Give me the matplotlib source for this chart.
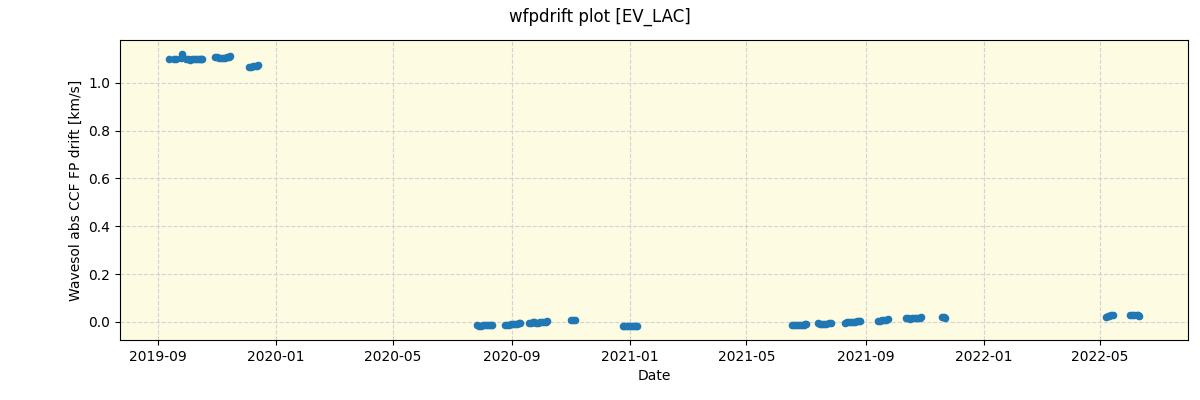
import matplotlib
matplotlib.use("Agg")
import matplotlib.pyplot as plt
import matplotlib.dates as mdates
import pandas as pd

dates = [
    # 2019 high-drift epoch
    "2019-09-12", "2019-09-18", "2019-09-20", "2019-09-25", "2019-09-26",
    "2019-09-30", "2019-10-02", "2019-10-04", "2019-10-06", "2019-10-08",
    "2019-10-10", "2019-10-12", "2019-10-14", "2019-10-16", "2019-10-17",
    "2019-10-30", "2019-11-01", "2019-11-03", "2019-11-05", "2019-11-07",
    "2019-11-09", "2019-11-11", "2019-11-13", "2019-11-15",
    "2019-12-04", "2019-12-06", "2019-12-08", "2019-12-10", "2019-12-12", "2019-12-13",
    # 2020
    "2020-07-27", "2020-07-29", "2020-07-31", "2020-08-02", "2020-08-04",
    "2020-08-06", "2020-08-08", "2020-08-10", "2020-08-11",
    "2020-08-25", "2020-08-27", "2020-08-29", "2020-08-31", "2020-09-02",
    "2020-09-04", "2020-09-06", "2020-09-08", "2020-09-09",
    "2020-09-18", "2020-09-20", "2020-09-22", "2020-09-24", "2020-09-26",
    "2020-09-28", "2020-09-30", "2020-10-02", "2020-10-04", "2020-10-06", "2020-10-07",
    "2020-11-01", "2020-11-03", "2020-11-05",
    "2020-12-24", "2020-12-26", "2020-12-28", "2020-12-30", "2021-01-01",
    "2021-01-03", "2021-01-05", "2021-01-07", "2021-01-08",
    # 2021
    "2021-06-17", "2021-06-19", "2021-06-21", "2021-06-23", "2021-06-25",
    "2021-06-27", "2021-06-29", "2021-07-01", "2021-07-02",
    "2021-07-14", "2021-07-16", "2021-07-18", "2021-07-20", "2021-07-22",
    "2021-07-25", "2021-07-27",
    "2021-08-11", "2021-08-13", "2021-08-15", "2021-08-17", "2021-08-19",
    "2021-08-21", "2021-08-23", "2021-08-25", "2021-08-26",
    "2021-09-14", "2021-09-16", "2021-09-18", "2021-09-20", "2021-09-22", "2021-09-24",
    "2021-10-13", "2021-10-15", "2021-10-17", "2021-10-19", "2021-10-21",
    "2021-10-23", "2021-10-25", "2021-10-27", "2021-10-28",
    "2021-11-19", "2021-11-21", "2021-11-22",
    # 2022
    "2022-05-07", "2022-05-09", "2022-05-11", "2022-05-13", "2022-05-15",
    "2022-06-01", "2022-06-03", "2022-06-05", "2022-06-08", "2022-06-10", "2022-06-11",
]
drift = [
    1.100, 1.100, 1.100, 1.105, 1.122,
    1.100, 1.098, 1.095, 1.098, 1.100,
    1.100, 1.100, 1.100, 1.100, 1.100,
    1.110, 1.108, 1.105, 1.105, 1.105,
    1.105, 1.108, 1.110, 1.113,
    1.065, 1.067, 1.070, 1.070, 1.072, 1.073,
    -0.015, -0.017, -0.016, -0.015, -0.015,
    -0.015, -0.015, -0.014, -0.013,
    -0.013, -0.013, -0.012, -0.011, -0.010,
    -0.009, -0.008, -0.007, -0.006,
    -0.003, -0.003, -0.002, -0.002, -0.003,
    -0.003, -0.002, -0.001, 0.000, 0.001, 0.002,
    0.007, 0.007, 0.006,
    -0.018, -0.018, -0.018, -0.019, -0.019,
    -0.019, -0.019, -0.018, -0.018,
    -0.015, -0.014, -0.013, -0.013, -0.012,
    -0.012, -0.012, -0.011, -0.011,
    -0.007, -0.008, -0.008, -0.008, -0.008,
    -0.007, -0.007,
    -0.003, -0.002, 0.000, 0.000, 0.001,
    0.001, 0.002, 0.002, 0.003,
    0.005, 0.005, 0.006, 0.007, 0.008, 0.010,
    0.014, 0.014, 0.013, 0.014, 0.015,
    0.016, 0.017, 0.018, 0.019,
    0.019, 0.019, 0.018,
    0.022, 0.024, 0.026, 0.027, 0.028,
    0.027, 0.027, 0.027, 0.027, 0.027, 0.026,
]

x = pd.to_datetime(dates)

fig = plt.figure(figsize=(12, 4), dpi=100)
ax = fig.add_axes([0.1, 0.15, 0.89, 0.75])
ax.set_facecolor("#fdfbe1")
ax.scatter(x, drift, s=20, color="#1f77b4", zorder=3)
ax.grid(True, linestyle="--", color="lightgray", linewidth=0.8)
ax.set_axisbelow(True)
ax.xaxis.set_major_locator(mdates.MonthLocator(bymonth=[1, 5, 9]))
ax.xaxis.set_major_formatter(mdates.DateFormatter("%Y-%m"))
ax.set_xlabel("Date")
ax.set_ylabel("Wavesol abs CCF FP drift [km/s]")
fig.suptitle("wfpdrift plot [EV_LAC]")
fig.savefig("out.png")
